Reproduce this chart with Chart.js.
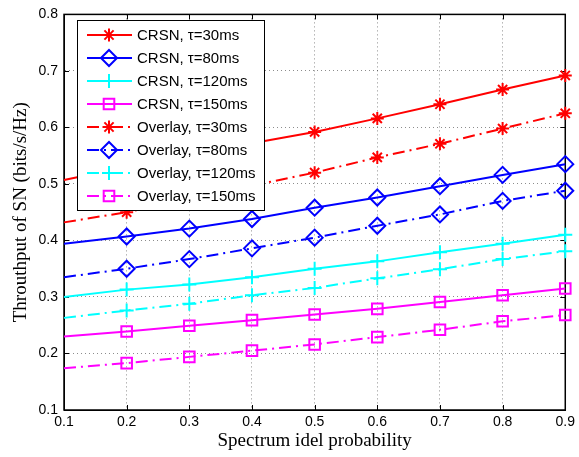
<!DOCTYPE html>
<html>
<head>
<meta charset="utf-8">
<script src="https://cdn.jsdelivr.net/npm/chart.js@4.4.1/dist/chart.umd.min.js"></script>
<style>
  body { margin: 0; background: #fff; }
</style>
</head>
<body>
<canvas id="myChart" width="579" height="457"></canvas>
<script>
// spectrum idle probability (x)
const idleProb = [0.1, 0.2, 0.3, 0.4, 0.5, 0.6, 0.7, 0.8, 0.9];

// throughput of SN
const crsn30 = [0.507, 0.530, 0.551, 0.572, 0.592, 0.616, 0.641, 0.667, 0.692];
const crsn80 = [0.394, 0.407, 0.421, 0.438, 0.458, 0.476, 0.496, 0.516, 0.535];
const crsn120 = [0.300, 0.313, 0.322, 0.335, 0.350, 0.363, 0.379, 0.394, 0.410];
const crsn150 = [0.230, 0.239, 0.249, 0.259, 0.269, 0.279, 0.291, 0.303, 0.315];
const overlay30 = [0.432, 0.450, 0.473, 0.497, 0.520, 0.547, 0.571, 0.598, 0.625];
const overlay80 = [0.335, 0.350, 0.367, 0.386, 0.405, 0.426, 0.446, 0.470, 0.488];
const overlay120 = [0.263, 0.276, 0.288, 0.303, 0.316, 0.333, 0.349, 0.367, 0.381];
const overlay150 = [0.174, 0.183, 0.194, 0.205, 0.216, 0.229, 0.242, 0.257, 0.268];

const seriesNames = [
  "CRSN, τ=30ms", "CRSN, τ=80ms", "CRSN, τ=120ms", "CRSN, τ=150ms",
  "Overlay, τ=30ms", "Overlay, τ=80ms", "Overlay, τ=120ms", "Overlay, τ=150ms"
];

const xTicks = [0.1, 0.2, 0.3, 0.4, 0.5, 0.6, 0.7, 0.8, 0.9];
const yTicks = [0.1, 0.2, 0.3, 0.4, 0.5, 0.6, 0.7, 0.8];

const DASHDOT = [12, 5, 2, 5];

const styles = [
  { color: "#ff0000", marker: "star", r: 6.5 },
  { color: "#0000ff", marker: "rectRot", r: 8 },
  { color: "#00ffff", marker: "cross", r: 7 },
  { color: "#ff00ff", marker: "rect", r: 7.5 },
];

const allSeries = [crsn30, crsn80, crsn120, crsn150, overlay30, overlay80, overlay120, overlay150];

const datasets = allSeries.map((vals, i) => {
  const st = styles[i % 4];
  const dashed = i >= 4;
  return {
    label: seriesNames[i],
    data: vals.map((v, k) => ({ x: idleProb[k], y: v })),
    borderColor: st.color,
    backgroundColor: "rgba(0,0,0,0)",
    borderWidth: 2,
    borderDash: dashed ? DASHDOT : [],
    pointStyle: st.marker,
    pointRadius: (c) => (c.dataIndex === 0 ? 0 : st.r),
    pointHoverRadius: (c) => (c.dataIndex === 0 ? 0 : st.r),
    pointBorderWidth: 2,
    pointBorderColor: st.color,
    pointBackgroundColor: "rgba(0,0,0,0)",
    tension: 0,
    clip: false,
  };
});

// box round the plot + matlab style inward ticks
const frame = {
  id: "frame",
  beforeDatasetsDraw(chart) {
    const { ctx, chartArea: a, scales } = chart;
    ctx.save();
    ctx.strokeStyle = "#000";
    ctx.lineWidth = 1;
    ctx.beginPath();
    xTicks.forEach((v) => {
      const px = Math.round(scales.x.getPixelForValue(v)) + 0.5;
      ctx.moveTo(px, a.bottom); ctx.lineTo(px, a.bottom - 5);
      ctx.moveTo(px, a.top); ctx.lineTo(px, a.top + 5);
    });
    yTicks.forEach((v) => {
      const py = Math.round(scales.y.getPixelForValue(v)) + 0.5;
      ctx.moveTo(a.left, py); ctx.lineTo(a.left + 5, py);
      ctx.moveTo(a.right, py); ctx.lineTo(a.right - 5, py);
    });
    ctx.stroke();
    ctx.lineWidth = 1.5;
    ctx.strokeRect(a.left, a.top, a.right - a.left, a.bottom - a.top);
    ctx.restore();
  },
};

// legend box drawn inside the axes, top left
const boxLegend = {
  id: "boxLegend",
  afterDatasetsDraw(chart) {
    const { ctx } = chart;
    const x0 = 77, y0 = 20, w = 187, h = 190;
    ctx.save();
    ctx.fillStyle = "#fff";
    ctx.fillRect(x0, y0, w, h);
    ctx.strokeStyle = "#000";
    ctx.lineWidth = 1;
    ctx.strokeRect(x0 + 0.5, y0 + 0.5, w, h);
    ctx.font = "15px 'Liberation Sans', Arial, sans-serif";
    ctx.textBaseline = "middle";
    ctx.textAlign = "left";
    chart.data.datasets.forEach((ds, i) => {
      const y = y0 + 15 + i * 23;
      ctx.save();
      ctx.strokeStyle = ds.borderColor;
      ctx.fillStyle = "rgba(0,0,0,0)";
      ctx.lineWidth = 2;
      ctx.setLineDash(ds.borderDash);
      ctx.beginPath();
      ctx.moveTo(x0 + 10, y);
      ctx.lineTo(x0 + 55, y);
      ctx.stroke();
      ctx.setLineDash([]);
      Chart.helpers.drawPoint(ctx, {
        pointStyle: ds.pointStyle,
        radius: styles[i % 4].r,
        borderWidth: 2,
      }, x0 + 32, y);
      ctx.restore();
      ctx.fillStyle = "#000";
      ctx.fillText(ds.label, x0 + 60, y + 1);
    });
    ctx.restore();
  },
};

const ctx1 = document.querySelector("#myChart");

new Chart(ctx1, {
  type: "line",
  data: { datasets },
  options: {
    responsive: false,
    animation: false,
    devicePixelRatio: 1,
    layout: { padding: { top: 13, right: 11, left: 0, bottom: 0 } },
    plugins: { legend: { display: false }, tooltip: { enabled: false } },
    scales: {
      x: {
        type: "linear",
        min: 0.1,
        max: 0.9,
        afterBuildTicks: (s) => { s.ticks = xTicks.map((v) => ({ value: v })); },
        afterFit: (s) => { s.height = 47; },
        ticks: {
          color: "#000",
          padding: 4,
          maxRotation: 0,
          font: { family: "'Liberation Sans', Arial, sans-serif", size: 14 },
          callback: (v) => v.toFixed(1),
        },
        grid: { color: "rgba(0,0,0,0.45)", lineWidth: 1, drawTicks: false },
        border: { display: true, color: "#000", width: 1, dash: [1, 3] },
        title: {
          display: true,
          text: "Spectrum idel probability",
          color: "#000",
          font: { family: "'Liberation Serif', 'Times New Roman', serif", size: 19 },
          padding: { top: 0, bottom: 5 },
        },
      },
      y: {
        type: "linear",
        min: 0.1,
        max: 0.8,
        afterBuildTicks: (s) => { s.ticks = yTicks.map((v) => ({ value: v })); },
        afterFit: (s) => { s.width = 64; },
        ticks: {
          color: "#000",
          padding: 6,
          font: { family: "'Liberation Sans', Arial, sans-serif", size: 14 },
          callback: (v) => v.toFixed(1),
        },
        grid: { color: "rgba(0,0,0,0.45)", lineWidth: 1, drawTicks: false },
        border: { display: true, color: "#000", width: 1, dash: [1, 3] },
        title: {
          display: true,
          text: "Throuthput of SN (bits/s/Hz)",
          color: "#000",
          font: { family: "'Liberation Serif', 'Times New Roman', serif", size: 19 },
          padding: { top: 10, bottom: 0 },
        },
      },
    },
  },
  plugins: [frame, boxLegend],
});
</script>
</body>
</html>
